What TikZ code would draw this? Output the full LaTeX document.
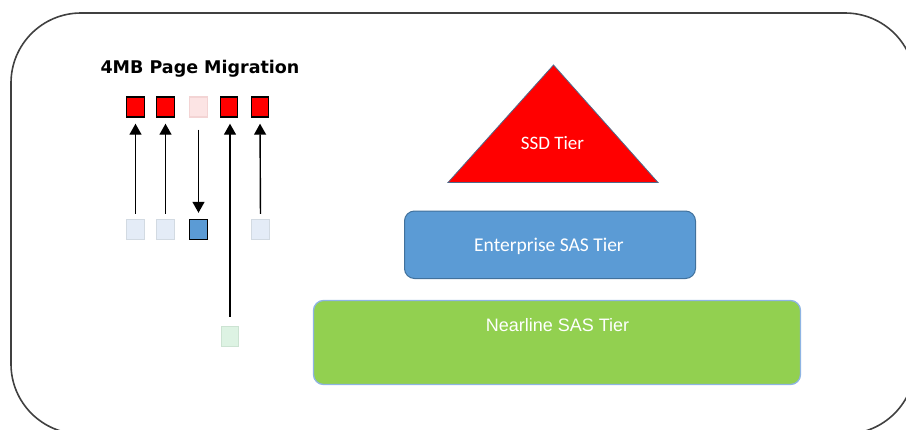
\documentclass[tikz,border=0pt]{standalone}
\usepackage{fontspec}
\setmainfont{Liberation Sans}
\newfontfamily\titlefont{DejaVu Sans}
\newfontfamily\calfont{Carlito}
\usetikzlibrary{arrows.meta}
\definecolor{redsq}{HTML}{FF0000}
\definecolor{pinksq}{HTML}{FCE4E4}
\definecolor{pinkbd}{HTML}{F3D4D4}
\definecolor{lbsq}{HTML}{E4ECF7}
\definecolor{lbbd}{HTML}{D2DAE2}
\definecolor{bluesq}{HTML}{5B9BD5}
\definecolor{bluebd}{HTML}{41719C}
\definecolor{grsq}{HTML}{DDF3E3}
\definecolor{grbd}{HTML}{CCE3D2}
\definecolor{nlfill}{HTML}{92D050}
\definecolor{nlbd}{HTML}{8EB4E3}
\definecolor{tribd}{HTML}{4F6A8A}
\definecolor{outer}{HTML}{404040}
\tikzset{
  sq/.style={minimum width=17.5pt,minimum height=20pt,inner sep=0pt,line width=1.4pt},
  hot/.style={sq,draw=black,fill=redsq},
  ghostred/.style={sq,draw=pinkbd,fill=pinksq},
  ghostblue/.style={sq,draw=lbbd,fill=lbsq},
  hotblue/.style={sq,draw=black,fill=bluesq},
  ghostgreen/.style={sq,draw=grbd,fill=grsq},
  mig/.style={line width=1.4pt,-{Triangle[length=11pt,width=12pt]}},
  tierlbl/.style={text=white,inner sep=0pt,anchor=base},
}
\begin{document}
\begin{tikzpicture}[x=1pt,y=-1pt]
\useasboundingbox (0,0) rectangle (906,429);
\begin{scope}
\clip (0,0) rectangle (906,429);
\draw[outer,line width=1.6pt,rounded corners=70pt] (11,13) rectangle (915,434);
\end{scope}
% title
\node[anchor=base,inner sep=0pt,font=\titlefont\bfseries\fontsize{17.5}{20}\selectfont] (title) at (200,73) {4MB Page Migration};
% top row
\node[hot] (t1) at (135.5,107) {};
\node[hot] (t2) at (165.5,107) {};
\node[ghostred] (t3) at (198.5,107) {};
\node[hot] (t4) at (229,107) {};
\node[hot] (t5) at (260,107) {};
% bottom row
\node[ghostblue] (b1) at (135.5,229.5) {};
\node[ghostblue] (b2) at (165.5,229.5) {};
\node[hotblue] (b3) at (198.5,229.5) {};
\node[ghostblue] (b5) at (260.5,229.5) {};
\node[ghostgreen] (g4) at (230,336.5) {};
% arrows
\draw[mig,shorten <=5pt,shorten >=6pt] (b1.north) -- (t1.south);
\draw[mig,shorten <=5pt,shorten >=6pt] (b2.north) -- (t2.south);
\draw[mig,shorten <=12pt,shorten >=6pt] (t3.south) -- (b3.north);
\draw[mig,shorten <=9pt,shorten >=6pt] (g4.north) -- (g4.north |- t4.south);
\draw[mig,shorten <=5pt,shorten >=6pt] (b5.north) -- (t5.south);
% tiers
\path[fill=redsq,draw=tribd,line width=0.8pt] (553.5,65) coordinate (apex) -- (658,182.5) coordinate (br) -- (448,182.5) coordinate (bl) -- cycle;
\node[tierlbl,font=\calfont\fontsize{19}{22}\selectfont] (ssd) at (552.5,149) {SSD Tier};
\draw[fill=bluesq,draw=bluebd,line width=1pt,rounded corners=10pt] (404.5,211) rectangle (695.5,278.5);
\node[tierlbl,font=\calfont\fontsize{19.5}{22}\selectfont] (ent) at (549,251.5) {Enterprise SAS Tier};
\draw[fill=nlfill,draw=nlbd,line width=1.3pt,rounded corners=10pt] (313.5,300.5) rectangle (800.5,384.5);
\node[tierlbl,font=\fontsize{18}{21}\selectfont] (nl) at (557.5,331.5) {Nearline SAS Tier};
\end{tikzpicture}
\end{document}
